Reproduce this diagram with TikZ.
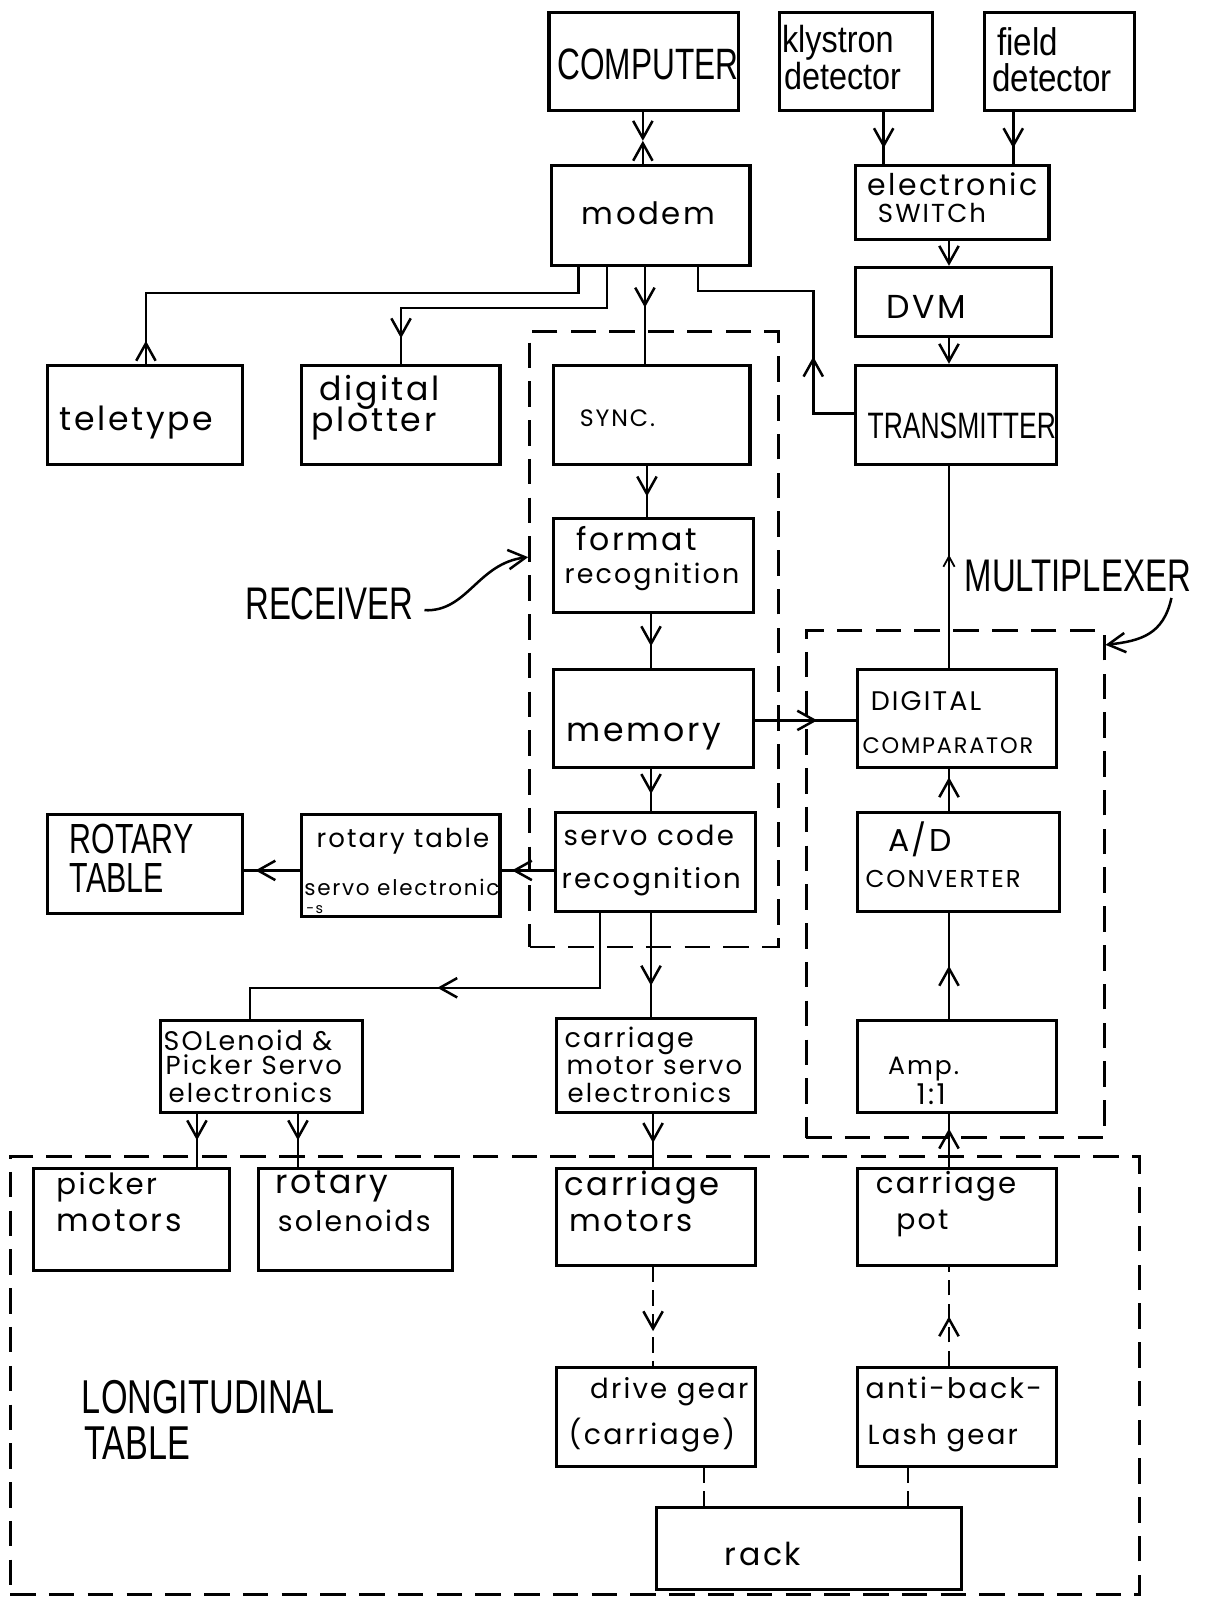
\documentclass[tikz,border=0pt]{standalone}
\usepackage{fontspec}
\setmainfont{Poppins}
\newfontfamily\cond[FakeStretch=0.72]{Liberation Sans}
\newfontfamily\condw[FakeStretch=0.86]{Liberation Sans}
\newfontfamily\hand[LetterSpace=8]{Poppins}
\usetikzlibrary{arrows.meta,decorations.markings,fit}
\tikzset{
  hd/.tip={Straight Barb[length=3.4mm,width=3.8mm,line width=1.4pt]},
  hds/.tip={Straight Barb[length=2mm,width=2.2mm,line width=1pt]},
  box/.style={draw,line width=1.7pt,inner sep=0pt},
  grp/.style={draw,line width=1.6pt,dash pattern=on 5mm off 2.6mm,inner sep=0pt},
  conn/.style={line width=1.4pt},
  dsh/.style={dash pattern=on 3mm off 1.6mm},
  marr/.style={decoration={markings,mark=at position #1 with {\arrow{hd}}},postaction={decorate}},
  marrs/.style={decoration={markings,mark=at position #1 with {\arrow{hds}}},postaction={decorate}},
  H/.style={font=\hand\fontsize{#1}{#1}\selectfont,inner sep=0pt,anchor=base west},
  H/.default=16,
  C/.style={font=\cond\fontsize{#1}{#1}\selectfont,inner sep=0pt,anchor=base west},
  C/.default=25,
  CW/.style={font=\condw\fontsize{#1}{#1}\selectfont,inner sep=0pt,anchor=base west},
}
\begin{document}
\begin{tikzpicture}[x=0.02cm,y=-0.02cm]
\fill[white] (0,0) rectangle (1196,1568);
\useasboundingbox (0,0) rectangle (1196,1568);

% group boxes
\node[grp,fit={(519,325) (763,928)}] (receiver) {};
\node[grp,fit={(790,618) (1082,1115)}] (mux) {};
\node[grp,fit={(10,1133) (1117,1563)}] (longt) {};

% boxes
\node[box,fit={(538,12) (724,108)}] (computer) {};
\node[box,fit={(764,12) (914,108)}] (klystron) {};
\node[box,fit={(965,12) (1112,108)}] (field) {};
\node[box,fit={(540,162) (735,260)}] (modem) {};
\node[box,fit={(838,162) (1028,235)}] (switch) {};
\node[box,fit={(838,262) (1030,330)}] (dvm) {};
\node[box,fit={(838,358) (1035,455)}] (tx) {};
\node[box,fit={(47,358) (238,455)}] (teletype) {};
\node[box,fit={(295,358) (490,455)}] (plotter) {};
\node[box,fit={(542,358) (735,455)}] (sync) {};
\node[box,fit={(542,508) (738,600)}] (format) {};
\node[box,fit={(542,656) (738,752)}] (memory) {};
\node[box,fit={(544,796) (740,893)}] (servo) {};
\node[box,fit={(840,656) (1035,752)}] (dcomp) {};
\node[box,fit={(840,796) (1038,893)}] (adc) {};
\node[box,fit={(840,1000) (1035,1090)}] (amp) {};
\node[box,fit={(840,1145) (1035,1240)}] (pot) {};
\node[box,fit={(840,1340) (1035,1437)}] (anti) {};
\node[box,fit={(545,998) (740,1090)}] (cmse) {};
\node[box,fit={(545,1145) (740,1240)}] (cmot) {};
\node[box,fit={(545,1340) (740,1437)}] (drive) {};
\node[box,fit={(643,1477) (942,1558)}] (rack) {};
\node[box,fit={(47,798) (238,895)}] (rtable) {};
\node[box,fit={(295,798) (490,898)}] (rservo) {};
\node[box,fit={(157,1000) (355,1090)}] (sol) {};
\node[box,fit={(33,1145) (225,1245)}] (picker) {};
\node[box,fit={(253,1145) (443,1245)}] (rsol) {};

% texts
\node[C=24.5] (tcomputer) at (546,78) {COMPUTER};
\node[CW=21] (tkly1) at (766,51) {klystron};
\node[CW=21] (tkly2) at (768,88) {detector};
\node[CW=21.5] (tfld1) at (977,54) {field};
\node[CW=21.5] (tfld2) at (972,90) {detector};
\node[H=17.2] (tmodem) at (570,220) {modem};
\node[H=16.7] (tsw1) at (850,192) {electronic};
\node[H=14.5] (tsw2) at (860,218) {SWITCh};
\node[H=18.5] (tdvm) at (868,312) {DVM};
\node[C=20.5] (ttx) at (850,430) {TRANSMITTER};
\node[H=18.5] (ttele) at (58,422) {teletype};
\node[H=18.5] (tplot1) at (313,392) {digital};
\node[H=18.5] (tplot2) at (305,423) {plotter};
\node[H=13.2] (tsync) at (568,418) {SYNC.};
\node[H=17.6] (tfmt1) at (565,539) {format};
\node[H=15] (tfmt2) at (553,572) {recognition};
\node[H=18.5] (tmem) at (555,727) {memory};
\node[H=15.4] (tsrv1) at (552,829) {servo code};
\node[H=15.4] (tsrv2) at (550,871) {recognition};
\node[H=15] (tdc1) at (853,696) {DIGITAL};
\node[H=12.5] (tdc2) at (845,738) {COMPARATOR};
\node[H=17.6] (tadc1) at (870,834) {A/D};
\node[H=13.6] (tadc2) at (848,870) {CONVERTER};
\node[H=14] (tamp1) at (870,1053) {Amp.};
\node[H=16] (tamp2) at (898,1082) {1:1};
\node[H=16.3] (tpot1) at (858,1170) {carriage};
\node[H=15.8] (tpot2) at (878,1205) {pot};
\node[H=15.8] (tanti1) at (848,1371) {anti-back-};
\node[H=15.4] (tanti2) at (850,1416) {Lash gear};
\node[H=17.6] (track) at (710,1534) {rack};
\node[H=15.4] (tdrv1) at (578,1371) {drive gear};
\node[H=15.8] (tdrv2) at (557,1416) {(carriage)};
\node[H=18] (tcm1) at (553,1172) {carriage};
\node[H=17.2] (tcm2) at (558,1207) {motors};
\node[H=15] (tcs1) at (553,1027) {carriage};
\node[H=14.5] (tcs2) at (555,1053) {motor servo};
\node[H=14.5] (tcs3) at (556,1080) {electronics};
\node[H=15] (tsol1) at (160,1029) {SOLenoid \&};
\node[H=14.5] (tsol2) at (162,1053) {Picker Servo};
\node[H=14.5] (tsol3) at (165,1080) {electronics};
\node[H=16.3] (tpk1) at (55,1171) {picker};
\node[H=17.6] (tpk2) at (55,1207) {motors};
\node[H=18.5] (trs1) at (270,1170) {rotary};
\node[H=15.8] (trs2) at (272,1207) {solenoids};
\node[H=14.5] (trsv1) at (310,831) {rotary table};
\node[H=12] (trsv2) at (298,878) {servo electronic};
\node[H=8] (trsv3) at (300,895) {-s};
\node[C=23.5] (trt1) at (68,836) {ROTARY};
\node[C=23.5] (trt2) at (68,875) {TABLE};
\node[C=25.5] (trecv) at (240,607) {RECEIVER};
\node[C=25.5] (tmux) at (945,580) {MULTIPLEXER};
\node[C=26.5] (tlong1) at (80,1385) {LONGITUDINAL};
\node[C=26.5] (tlong2) at (82,1430) {TABLE};

% connectors
\coordinate (cmx) at (630,138);
\draw[conn,-hd] (computer.south -| cmx) -- (cmx);
\draw[conn,-hd] (modem.north -| cmx) -- (cmx);
\draw[conn,marr=0.7] (klystron.south -| 866,0) -- (switch.north -| 866,0);
\draw[conn,marr=0.7] (field.south -| 993,0) -- (switch.north -| 993,0);
\draw[conn,-hd] (switch.south -| 930,0) -- (dvm.north -| 930,0);
\draw[conn,-hd] (dvm.south -| 930,0) -- (tx.north -| 930,0);
\draw[conn,marr=0.45cm] (teletype.north -| 143,0) -- (143,287) -| (modem.south -| 567,0);
\draw[conn,marr=-0.5cm] (modem.south -| 595,0) |- (393,302) -- (plotter.north -| 393,0);
\draw[conn,marr=0.42] (modem.south -| 632,0) -- (sync.north -| 632,0);
\draw[conn,marr=1.9cm] (tx.west |- 0,405) -- (797,405) |- (684,285) -- (modem.south -| 684,0);
\draw[conn,marr=0.6] (sync.south -| 634,0) -- (format.north -| 634,0);
\draw[conn,marr=0.6] (format.south -| 638,0) -- (memory.north -| 638,0);
\draw[conn,marr=0.6] (memory.south -| 638,0) -- (servo.north -| 638,0);
\draw[conn,marr=0.62] (memory.east |- 0,706) -- (dcomp.west |- 0,706);
\draw[conn,marr=0.8] (adc.north -| 930,0) -- (dcomp.south -| 930,0);
\draw[line width=0.9pt,marrs=0.56] (dcomp.north -| 930,0) -- (tx.south -| 930,0);
\draw[conn,marr=0.5] (amp.north -| 930,0) -- (adc.south -| 930,0);
\draw[conn,marr=0.72] (pot.north -| 930,0) -- (amp.south -| 930,0);
\draw[conn,dsh,marr=0.5] (anti.north -| 930,0) -- (pot.south -| 930,0);
\draw[conn,marr=0.7] (servo.south -| 638,0) -- (cmse.north -| 638,0);
\draw[conn,marr=0.55] (cmse.south -| 640,0) -- (cmot.north -| 640,0);
\draw[conn,dsh,marr=0.65] (cmot.south -| 640,0) -- (drive.north -| 640,0);
\draw[conn,dsh] (drive.south -| 690,0) -- (rack.north -| 690,0);
\draw[conn,dsh] (anti.south -| 890,0) -- (rack.north -| 890,0);
\draw[conn,marr=4.66cm] (servo.south -| 588,0) |- (245,968) -- (sol.north -| 245,0);
\draw[conn,marr=0.8] (servo.west |- 0,853) -- (rservo.east |- 0,853);
\draw[conn,marr=0.8] (rservo.west |- 0,853) -- (rtable.east |- 0,853);
\draw[conn,marr=0.5] (sol.south -| 193,0) -- (picker.north -| 193,0);
\draw[conn,marr=0.5] (sol.south -| 292,0) -- (rsol.north -| 292,0);

% label pointers
\coordinate (rstart) at (416,598);
\draw[conn,-hd] (rstart) .. controls (458,600) and (468,552) .. (receiver.west |- 0,546);
\coordinate (mstart) at (1148,586);
\draw[conn,-hd] (mstart) .. controls (1140,622) and (1118,628) .. (mux.east |- 0,632);
\end{tikzpicture}
\end{document}
